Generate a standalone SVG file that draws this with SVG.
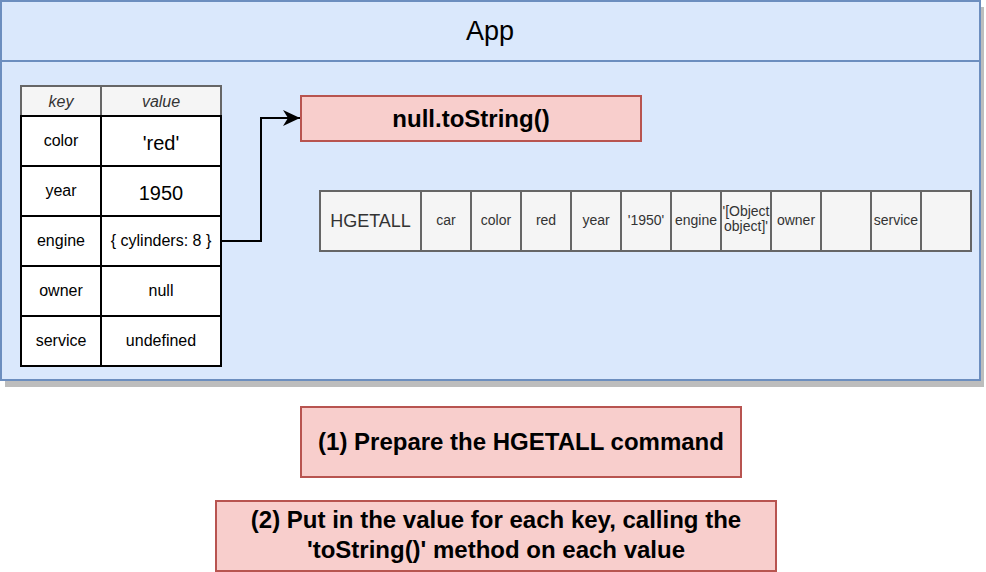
<svg xmlns="http://www.w3.org/2000/svg" width="986" height="572" viewBox="0 0 986 572">
<defs>
<style>
text{font-family:"Liberation Sans",Helvetica,Arial,sans-serif;text-anchor:middle;}
.app{fill:#dae8fc;stroke:#6c8ebf;stroke-width:2;}
.shadow{fill:#bdbdbd;}
.hdr{fill:#f5f5f5;stroke:#666666;stroke-width:2;}
.cell{fill:#ffffff;stroke:#000000;stroke-width:2;}
.gcell{fill:#f5f5f5;stroke:#666666;stroke-width:2;}
.red{fill:#f8cecc;stroke:#b85450;stroke-width:2;}
.t{fill:#000000;font-size:16px;}
.tb{fill:#000000;font-size:24px;font-weight:bold;}
.th{fill:#333333;font-size:16px;font-style:italic;}
.tg{fill:#333333;font-size:14px;}
.edge{fill:none;stroke:#000000;stroke-width:2;}
</style>
<marker id="arr" viewBox="0 0 17 16" refX="17" refY="8" markerWidth="17" markerHeight="16" markerUnits="userSpaceOnUse" orient="auto">
<path d="M0,0 L17,8 L0,16 L5,8 Z" fill="#000000"/>
</marker>
</defs>
<g id="app">
<rect class="shadow" x="5" y="7" width="979" height="380"/>
<rect class="app" x="1" y="1" width="979" height="379"/>
<line x1="1" y1="61" x2="980" y2="61" stroke="#6c8ebf" stroke-width="2"/>
<text x="490" y="40" style="font-size:27px;fill:#000">App</text>
</g>
<g id="table">
<rect class="hdr" x="21" y="86" width="80" height="30"/>
<rect class="hdr" x="101" y="86" width="120" height="30"/>
<text class="th" x="61" y="107">key</text>
<text class="th" x="161" y="107">value</text>
<rect class="cell" x="21" y="116" width="80" height="50"/>
<rect class="cell" x="101" y="116" width="120" height="50"/>
<rect class="cell" x="21" y="166" width="80" height="50"/>
<rect class="cell" x="101" y="166" width="120" height="50"/>
<rect class="cell" x="21" y="216" width="80" height="50"/>
<rect class="cell" x="101" y="216" width="120" height="50"/>
<rect class="cell" x="21" y="266" width="80" height="50"/>
<rect class="cell" x="101" y="266" width="120" height="50"/>
<rect class="cell" x="21" y="316" width="80" height="50"/>
<rect class="cell" x="101" y="316" width="120" height="50"/>
<text class="t" x="61" y="146">color</text>
<text class="t" x="61" y="196">year</text>
<text class="t" x="61" y="246">engine</text>
<text class="t" x="61" y="296">owner</text>
<text class="t" x="61" y="346">service</text>
<text class="t" x="161" y="150" style="font-size:20px">'red'</text>
<text class="t" x="161" y="200" style="font-size:20px">1950</text>
<text class="t" x="161" y="246">{ cylinders: 8 }</text>
<text class="t" x="161" y="296">null</text>
<text class="t" x="161" y="346">undefined</text>
</g>
<g id="null-tostring">
<rect class="red" x="301" y="96" width="340" height="45"/>
<text class="tb" x="471" y="127">null.toString()</text>
</g>
<g id="hgetall">
<rect class="gcell" x="320" y="191" width="101" height="60"/>
<rect class="gcell" x="421" y="191" width="50" height="60"/>
<rect class="gcell" x="471" y="191" width="50" height="60"/>
<rect class="gcell" x="521" y="191" width="50" height="60"/>
<rect class="gcell" x="571" y="191" width="50" height="60"/>
<rect class="gcell" x="621" y="191" width="50" height="60"/>
<rect class="gcell" x="671" y="191" width="50" height="60"/>
<rect class="gcell" x="721" y="191" width="50" height="60"/>
<rect class="gcell" x="771" y="191" width="50" height="60"/>
<rect class="gcell" x="821" y="191" width="50" height="60"/>
<rect class="gcell" x="871" y="191" width="50" height="60"/>
<rect class="gcell" x="921" y="191" width="50" height="60"/>
<text class="tg" x="370.5" y="227" style="font-size:18px">HGETALL</text>
<text class="tg" x="446" y="225">car</text>
<text class="tg" x="496" y="225">color</text>
<text class="tg" x="546" y="225">red</text>
<text class="tg" x="596" y="225">year</text>
<text class="tg" x="646" y="225">'1950'</text>
<text class="tg" x="696" y="225">engine</text>
<text class="tg" x="746" y="216">'[Object</text>
<text class="tg" x="746" y="231">object]'</text>
<text class="tg" x="796" y="225">owner</text>
<text class="tg" x="896" y="225">service</text>
</g>
<g id="connectors">
<path class="edge" d="M221,241 L261,241 L261,118 L300,118" marker-end="url(#arr)"/>
</g>
<g id="step1">
<rect class="red" x="301" y="407" width="440" height="70"/>
<text class="tb" x="521" y="450">(1) Prepare the HGETALL command</text>
</g>
<g id="step2">
<rect class="red" x="216" y="501" width="560" height="70"/>
<text class="tb" x="496" y="528">(2) Put in the value for each key, calling the</text>
<text class="tb" x="496" y="558">'toString()' method on each value</text>
</g>
</svg>
